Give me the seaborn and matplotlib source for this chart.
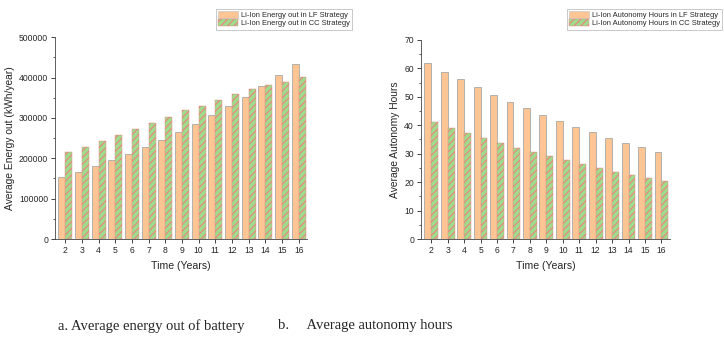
import numpy as np
import pandas as pd
import seaborn as sns
import matplotlib.pyplot as plt
from matplotlib.ticker import AutoMinorLocator

years = list(range(2, 17))

energy_lf = [153000, 166000, 180000, 195000, 210000, 227000, 245000, 265000,
             285000, 306000, 329000, 353000, 379000, 406000, 433000]
energy_cc = [215000, 228000, 243000, 258000, 273000, 288000, 303000, 320000,
             330000, 345000, 358000, 371000, 382000, 389000, 402000]

hours_lf = [61.8, 58.8, 56.1, 53.4, 50.8, 48.3, 46.0, 43.7, 41.5, 39.4,
            37.5, 35.6, 33.8, 32.2, 30.6]
hours_cc = [41.2, 39.2, 37.3, 35.5, 33.8, 32.1, 30.6, 29.1, 27.7, 26.3,
            25.0, 23.7, 22.5, 21.4, 20.3]

orange = '#FDC494'
green = '#9EDC8C'
hatch_col = '#EE8080'

sns.set_style("ticks")
plt.rcParams['font.family'] = ['Liberation Sans', 'DejaVu Sans']
plt.rcParams['hatch.linewidth'] = 0.8


def draw_panel(ax, lf, cc, lab_lf, lab_cc, ylabel, ymax, ystep, legend_pos):
    df = pd.DataFrame({
        'year': years * 2,
        'value': lf + cc,
        'series': [lab_lf] * len(years) + [lab_cc] * len(years),
    })
    sns.barplot(data=df, x='year', y='value', hue='series',
                palette=[orange, green], width=0.84, ax=ax,
                saturation=1, legend=False)
    n = len(years)
    for i, p in enumerate(ax.patches[:2 * n]):
        if i < n:
            p.set_edgecolor('#A8A8A8')
            p.set_linewidth(0.6)
        else:
            p.set_edgecolor(hatch_col)
            p.set_hatch('/////')
            p.set_linewidth(0.3)
    ax.set_xlim(-0.62, n - 0.5)
    ax.set_ylim(0, ymax)
    ax.set_yticks(np.arange(0, ymax + 1, ystep))
    ax.yaxis.set_minor_locator(AutoMinorLocator(2))
    ax.tick_params(axis='both', which='major', labelsize=6.2, length=3,
                   width=0.6, direction='out', pad=2)
    ax.tick_params(axis='y', which='minor', length=1.8, width=0.5)
    ax.set_xlabel('Time (Years)', fontsize=7.6, labelpad=4)
    ax.set_ylabel(ylabel, fontsize=7.4, labelpad=3)
    for s in ['top', 'right']:
        ax.spines[s].set_visible(False)
    for s in ['left', 'bottom']:
        ax.spines[s].set_linewidth(0.6)
        ax.spines[s].set_color('#444444')

    h1 = plt.Rectangle((0, 0), 1, 1, facecolor=orange, edgecolor='#C8C8C8',
                       linewidth=0.5)
    h2 = plt.Rectangle((0, 0), 1, 1, facecolor=green, edgecolor=hatch_col,
                       hatch='/////', linewidth=0.3)
    leg = ax.figure.legend([h1, h2], [lab_lf, lab_cc], loc='upper right',
                           bbox_to_anchor=legend_pos, fontsize=5.4,
                           frameon=True, fancybox=False, borderpad=0.3,
                           handlelength=2.6, handleheight=0.95,
                           handletextpad=0.4, labelspacing=0.05,
                           borderaxespad=0)
    leg.get_frame().set_edgecolor('#B0B0B0')
    leg.get_frame().set_linewidth(0.6)


fig = plt.figure(figsize=(7.24, 3.47), dpi=100)
ax1 = fig.add_axes([0.076, 0.311, 0.348, 0.582])
ax2 = fig.add_axes([0.5815, 0.311, 0.3435, 0.574])

draw_panel(ax1, energy_lf, energy_cc,
           'Li-Ion Energy out in LF Strategy',
           'Li-Ion Energy out in CC Strategy',
           'Average Energy out (kWh/year)', 500000, 100000,
           (352 / 724, 1 - 9 / 347))
draw_panel(ax2, hours_lf, hours_cc,
           'Li-Ion Autonomy Hours in LF Strategy',
           'Li-Ion Autonomy Hours in CC Strategy',
           'Average Autonomy Hours', 70, 10,
           (722 / 724, 1 - 9 / 347))

fig.text(58 / 724, 1 - 326 / 347, 'a. Average energy out of battery',
         family='Liberation Serif', fontsize=10.5, va='center', ha='left')
fig.text(278 / 724, 1 - 326 / 347, 'b.     Average autonomy hours',
         family='Liberation Serif', fontsize=10.5, va='center', ha='left')

fig.savefig('out.png', dpi=100)
